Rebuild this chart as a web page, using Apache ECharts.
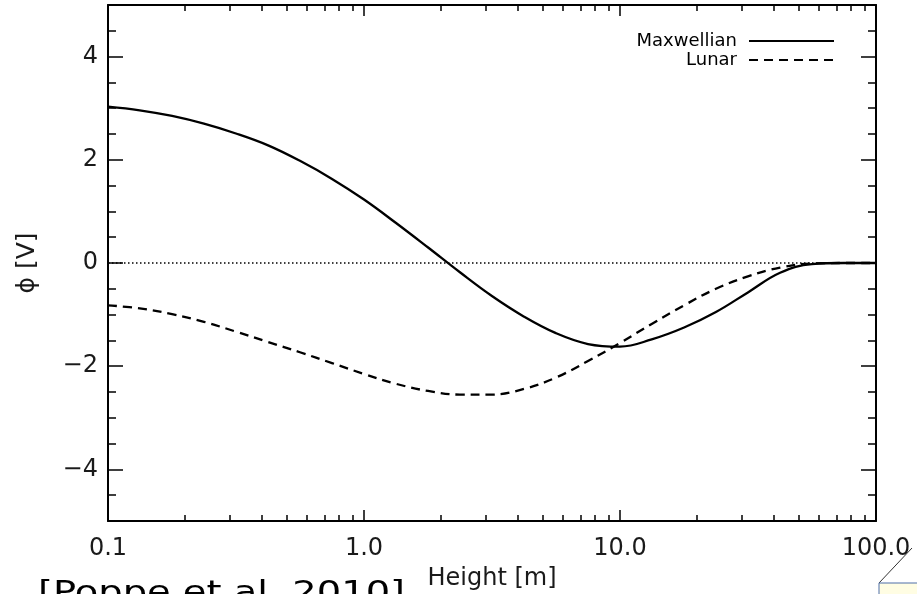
<!DOCTYPE html>
<html>
<head>
<meta charset="utf-8">
<script src="https://cdn.jsdelivr.net/npm/echarts@6/dist/echarts.min.js"></script>
<style>html,body{margin:0;padding:0;background:#fff}#c{width:917px;height:594px}</style>
</head>
<body>
<div id="c"></div>
<script>
// Heights [m], read at 1/8-decade steps
const heights = [0.1, 0.133, 0.178, 0.237, 0.316, 0.422, 0.562, 0.75, 1.0, 1.33, 1.78, 2.37, 3.16, 4.22, 5.62, 7.5, 10, 13.3, 17.8, 23.7, 31.6, 42.2, 56.2, 75, 100];
// Maxwellian potential [V]
const maxPhi = [3.03, 2.96, 2.85, 2.70, 2.51, 2.28, 1.98, 1.63, 1.23, 0.78, 0.30, -0.18, -0.64, -1.04, -1.36, -1.57, -1.62, -1.48, -1.25, -0.95, -0.57, -0.19, -0.02, 0.0, 0.0];
// Lunar potential [V]
const lunarPhi = [-0.82, -0.88, -0.99, -1.14, -1.33, -1.53, -1.73, -1.94, -2.15, -2.34, -2.48, -2.55, -2.55, -2.44, -2.22, -1.90, -1.55, -1.18, -0.82, -0.50, -0.26, -0.09, -0.01, 0.0, 0.0];
// zero reference line
const zeroHeight = [0.1, 100];
const zeroPhi = [0, 0];
// ticks
const xMajorTicks = [0.1, 1, 10, 100];
const xMinorTicks = [0.2,0.3,0.4,0.5,0.6,0.7,0.8,0.9, 2,3,4,5,6,7,8,9, 20,30,40,50,60,70,80,90];
const yMajorTicks = [-4, -2, 0, 2, 4];
const yMinorTicks = [-4.5,-3.5,-3,-2.5,-1.5,-1,-0.5,0.5,1,1.5,2.5,3,3.5,4.5];

const FONT = 'DejaVu Sans';
const zip = (a, b) => a.map((v, i) => [v, b[i]]);

function xAxisDef(pos, ticks, len, labels, line) {
  return {
    type: 'log', logBase: 10, min: 0.1, max: 100, position: pos,
    axisLine: {show: line, onZero: false, lineStyle: {color: '#000', width: 2}},
    axisTick: {show: true, inside: true, length: len, customValues: ticks, lineStyle: {color: '#000', width: 1.5}},
    axisLabel: labels ? {show: true, customValues: xMajorTicks, formatter: v => Number(v).toFixed(1),
      margin: 16, fontSize: 24, fontFamily: FONT, color: '#1a1a1a'} : {show: false},
    splitLine: {show: false}, minorTick: {show: false}
  };
}
function yAxisDef(pos, ticks, len, labels, line) {
  return {
    type: 'value', min: -5, max: 5, position: pos,
    axisLine: {show: line, onZero: false, lineStyle: {color: '#000', width: 2}},
    axisTick: {show: true, inside: true, length: len, customValues: ticks, lineStyle: {color: '#000', width: 1.5}},
    axisLabel: labels ? {show: true, customValues: yMajorTicks, formatter: v => String(v).replace('-', '\u2212'),
      margin: 10, fontSize: 24, fontFamily: FONT, color: '#1a1a1a'} : {show: false},
    splitLine: {show: false}
  };
}

const xs = [
  xAxisDef('bottom', xMajorTicks, 11, true, true),
  xAxisDef('bottom', xMinorTicks, 6, false, false),
  xAxisDef('top', xMajorTicks, 11, false, true),
  xAxisDef('top', xMinorTicks, 6, false, false)
];
Object.assign(xs[0], {name: 'Height [m]', nameLocation: 'middle', nameGap: 46,
  nameTextStyle: {fontSize: 24, fontFamily: FONT, color: '#1a1a1a'}});
const ys = [
  yAxisDef('left', yMajorTicks, 15, true, true),
  yAxisDef('left', yMinorTicks, 8, false, false),
  yAxisDef('right', yMajorTicks, 15, false, true),
  yAxisDef('right', yMinorTicks, 8, false, false)
];
Object.assign(ys[0], {name: '\u03D5 [V]', nameLocation: 'middle', nameRotate: 90, nameGap: 68,
  nameTextStyle: {fontSize: 25, fontFamily: FONT, color: '#1a1a1a'}});

const chart = echarts.init(document.getElementById('c'), null, {renderer: 'canvas'});
chart.setOption({
  animation: false,
  backgroundColor: '#fff',
  grid: {left: 108, right: 41, top: 5, bottom: 73, containLabel: false, outerBoundsMode: 'none'},
  xAxis: xs,
  yAxis: ys,
  legend: {
    data: ['Maxwellian', 'Lunar'],
    orient: 'vertical', align: 'right', right: 77, top: 27,
    itemWidth: 85, itemHeight: 14, itemGap: 1,
    itemStyle: {opacity: 0},
    formatter: '{a|{name}}',
    textStyle: {fontSize: 18, fontFamily: FONT, color: '#000',
      rich: {a: {fontSize: 18, lineHeight: 18, fontFamily: FONT, color: '#000', padding: [0, 7, 0, 0]}}},
    selectedMode: false
  },
  series: [
    {name: 'zero', type: 'line', data: zip(zeroHeight, zeroPhi), showSymbol: false, symbol: 'none',
     lineStyle: {color: '#000', width: 1.5, type: [1.5, 2.5]}, z: 1, silent: true},
    {name: 'Maxwellian', type: 'line', data: zip(heights, maxPhi), showSymbol: false, symbol: 'none',
     smooth: 0.4, itemStyle: {color: '#000'}, lineStyle: {color: '#000', width: 2.3, type: 'solid'}, z: 3},
    {name: 'Lunar', type: 'line', data: zip(heights, lunarPhi), showSymbol: false, symbol: 'none',
     smooth: 0.4, itemStyle: {color: '#000'}, lineStyle: {color: '#000', width: 2.3, type: [9, 6]}, z: 2}
  ],
  graphic: [
    {type: 'text', left: 38, top: 579, scaleX: 1.28,
     style: {text: '[Poppe et al. 2010]', fontSize: 30, fontFamily: FONT, fill: '#000'}},
    {type: 'line', shape: {x1: 912, y1: 548, x2: 879, y2: 583}, style: {stroke: '#333', lineWidth: 1}},
    {type: 'rect', shape: {x: 879, y: 583, width: 45, height: 20}, style: {fill: '#fffde3', stroke: '#4f6ea8', lineWidth: 1}}
  ]
});
</script>
</body>
</html>
